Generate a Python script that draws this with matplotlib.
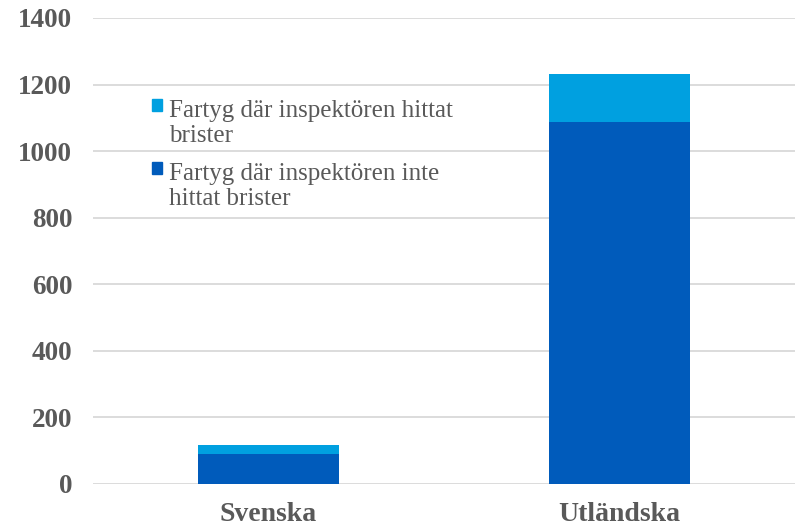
import matplotlib.pyplot as plt
from matplotlib.patches import Patch

categories = ['Svenska', 'Utländska']
utan_brister = [90, 1087]
med_brister = [27, 144]
labels = ['Fartyg där inspektören hittat\nbrister',
          'Fartyg där inspektören inte\nhittat brister']
yticks = [0, 200, 400, 600, 800, 1000, 1200, 1400]

plt.rcParams['font.family'] = ['Liberation Serif', 'DejaVu Serif']

dark = '#005bbb'
light = '#00a0e0'
grey = '#595959'

fig = plt.figure(figsize=(8.02, 5.27), dpi=100)
ax = fig.add_axes([0.116, 0.0816, 0.875, 0.8844])

x = range(len(categories))
ax.bar(x, utan_brister, width=0.4, color=dark, zorder=3)
ax.bar(x, med_brister, width=0.4, bottom=utan_brister, color=light, zorder=3)

ax.set_xlim(-0.5, 1.5)
ax.set_ylim(0, 1400)
ax.set_yticks(yticks)
ax.set_xticks(list(x))
ax.set_xticklabels(categories, fontsize=20, fontweight='bold', color=grey)
for t in ax.get_yticklabels():
    t.set_fontsize(19.5)
    t.set_fontweight('bold')
    t.set_color(grey)
ax.tick_params(axis='y', length=0, pad=15)
ax.tick_params(axis='x', length=0, pad=13)
ax.grid(axis='y', color='#d9d9d9', linewidth=1.3, zorder=0)
for s in ax.spines.values():
    s.set_visible(False)

handles = [Patch(color=light), Patch(color=dark)]
leg = ax.legend(handles, labels, loc='upper left',
                bbox_to_anchor=(152 / 802, 1 - 100 / 527), bbox_transform=fig.transFigure,
                frameon=False, fontsize=18, handlelength=0.38, handleheight=0.38,
                handletextpad=0.3, labelspacing=0.62, borderpad=0, borderaxespad=0,
                labelcolor=grey)
for t in leg.get_texts():
    t.set_linespacing(1.2)
for h in leg.legend_handles:
    h.set_y(h.get_y() + 13)

fig.savefig('out.png', dpi=100)
